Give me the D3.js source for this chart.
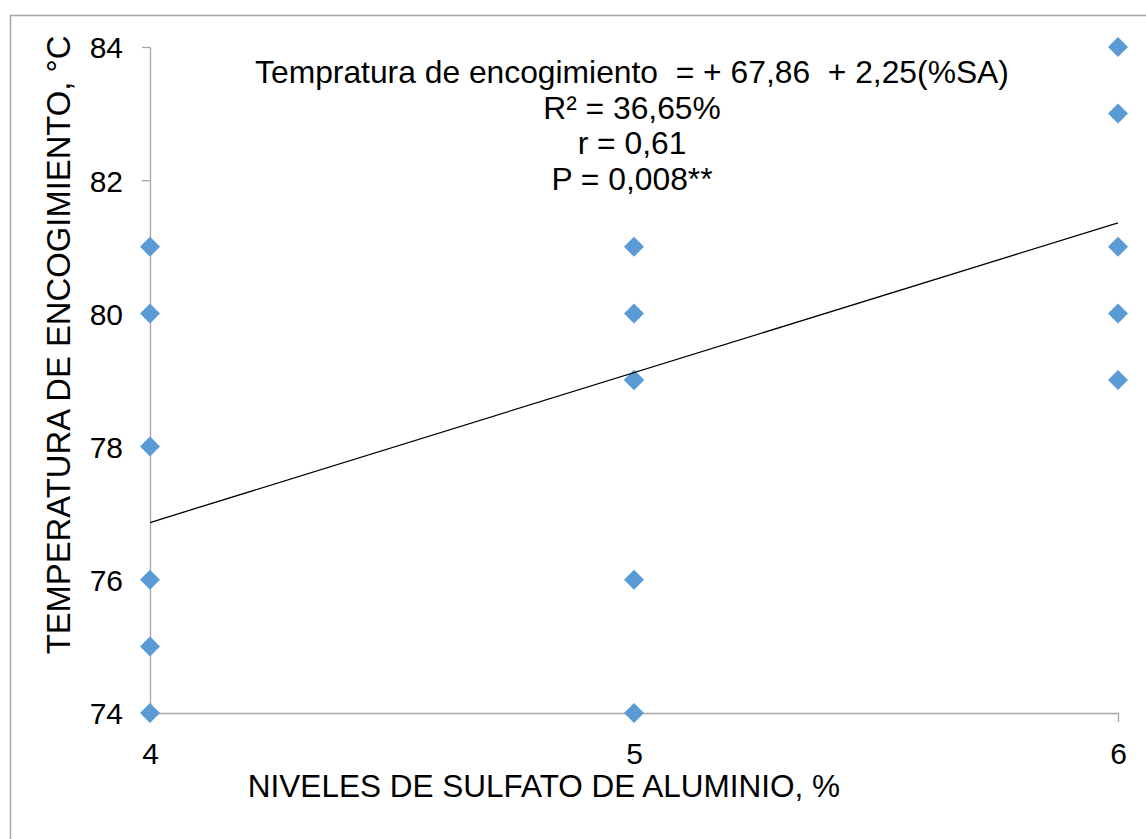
<!DOCTYPE html>
<html>
<head>
<meta charset="utf-8">
<script src="https://cdn.jsdelivr.net/npm/d3@7"></script>
<style>
  body { margin: 0; background: #fff; }
  svg { display: block; font-family: "Liberation Sans", Arial, sans-serif; }
</style>
</head>
<body>
<svg id="chart" width="1146" height="839"></svg>
<script>
// niveles de sulfato de aluminio (%) y temperatura de encogimiento (°C)
const nivel = [4, 4, 4, 4, 4, 4, 5, 5, 5, 5, 5, 5, 6, 6, 6, 6, 6];
const temp = [81, 80, 78, 76, 75, 74, 81, 80, 79, 79, 76, 74, 84, 83, 81, 80, 79];
const xTicks = [4, 5, 6];
const yTicks = [74, 76, 78, 80, 82, 84];
const intercept = 67.86;
const slope = 2.25;
const eqLines = [
    "Tempratura de encogimiento  = + 67,86  + 2,25(%SA)",
    "R² = 36,65%",
    "r = 0,61",
    "P = 0,008**"
];
const xTitle = "NIVELES DE SULFATO DE ALUMINIO, %";
const yTitle = "TEMPERATURA DE ENCOGIMIENTO, °C";

var width = 1146;
var height = 839;
var margin = ({ top: 47, right: 28, bottom: 126, left: 150 });

const svg = d3.select("#chart");

// marco exterior
svg.append("rect")
    .attr("x", 10.5)
    .attr("y", 15.5)
    .attr("width", 1200)
    .attr("height", 900)
    .attr("fill", "none")
    .attr("stroke", "#a6a6a6")
    .attr("stroke-width", 1.5);

var x = d3.scaleLinear()
    .domain([4, 6])
    .range([margin.left, width - margin.right]);

var y = d3.scaleLinear()
    .domain([74, 84])
    .range([height - margin.bottom, margin.top]);

var xAxis = g => g
    .attr("transform", `translate(0,${y(74)})`)
    .call(d3.axisBottom(x).tickValues(xTicks).tickSize(9).tickSizeOuter(0).tickFormat(d3.format("d")))
    .call(g => g.selectAll("line, path").attr("stroke", "#a6a6a6").attr("stroke-width", 1.3))
    .call(g => g.selectAll("text")
        .attr("y", 0)
        .attr("dy", null)
        .attr("transform", "translate(0,51)")
        .attr("fill", "#000")
        .attr("font-size", "30px"));

var yAxis = g => g
    .attr("transform", `translate(${x(4)},0)`)
    .call(d3.axisLeft(y).tickValues(yTicks).tickSize(8).tickSizeOuter(0))
    .call(g => g.selectAll("line, path").attr("stroke", "#a6a6a6").attr("stroke-width", 1.3))
    .call(g => g.selectAll("text")
        .attr("x", -27)
        .attr("dy", "0.36em")
        .attr("fill", "#000")
        .attr("font-size", "30px"));

svg.append("g").call(xAxis);
svg.append("g").call(yAxis);

// puntos
svg.append("g")
    .selectAll("path")
    .data(nivel.map((d, i) => [d, temp[i]]))
    .join("path")
    .attr("transform", d => `translate(${x(d[0])},${y(d[1])})`)
    .attr("d", "M0,-10L10,0L0,10L-10,0Z")
    .attr("fill", "#5b9bd5");

// recta de regresion
var fit = d3.line()
    .x(d => x(d))
    .y(d => y(intercept + slope * d));

svg.append("path")
    .datum([4, 6])
    .attr("d", fit)
    .attr("fill", "none")
    .attr("stroke", "#000")
    .attr("stroke-width", 1.3);

// ecuacion
svg.append("g")
    .selectAll("text")
    .data(eqLines)
    .join("text")
    .attr("x", 632)
    .attr("y", (d, i) => 83 + i * 35.5)
    .attr("text-anchor", "middle")
    .attr("font-size", "31.8px")
    .style("white-space", "pre")
    .text(d => d);

// titulos de ejes
svg.append("text")
    .attr("x", 544)
    .attr("y", 797)
    .attr("text-anchor", "middle")
    .attr("font-size", "31.5px")
    .text(xTitle);

svg.append("text")
    .attr("transform", "translate(70,345) rotate(-90)")
    .attr("text-anchor", "middle")
    .attr("font-size", "32.8px")
    .text(yTitle);
</script>
</body>
</html>
